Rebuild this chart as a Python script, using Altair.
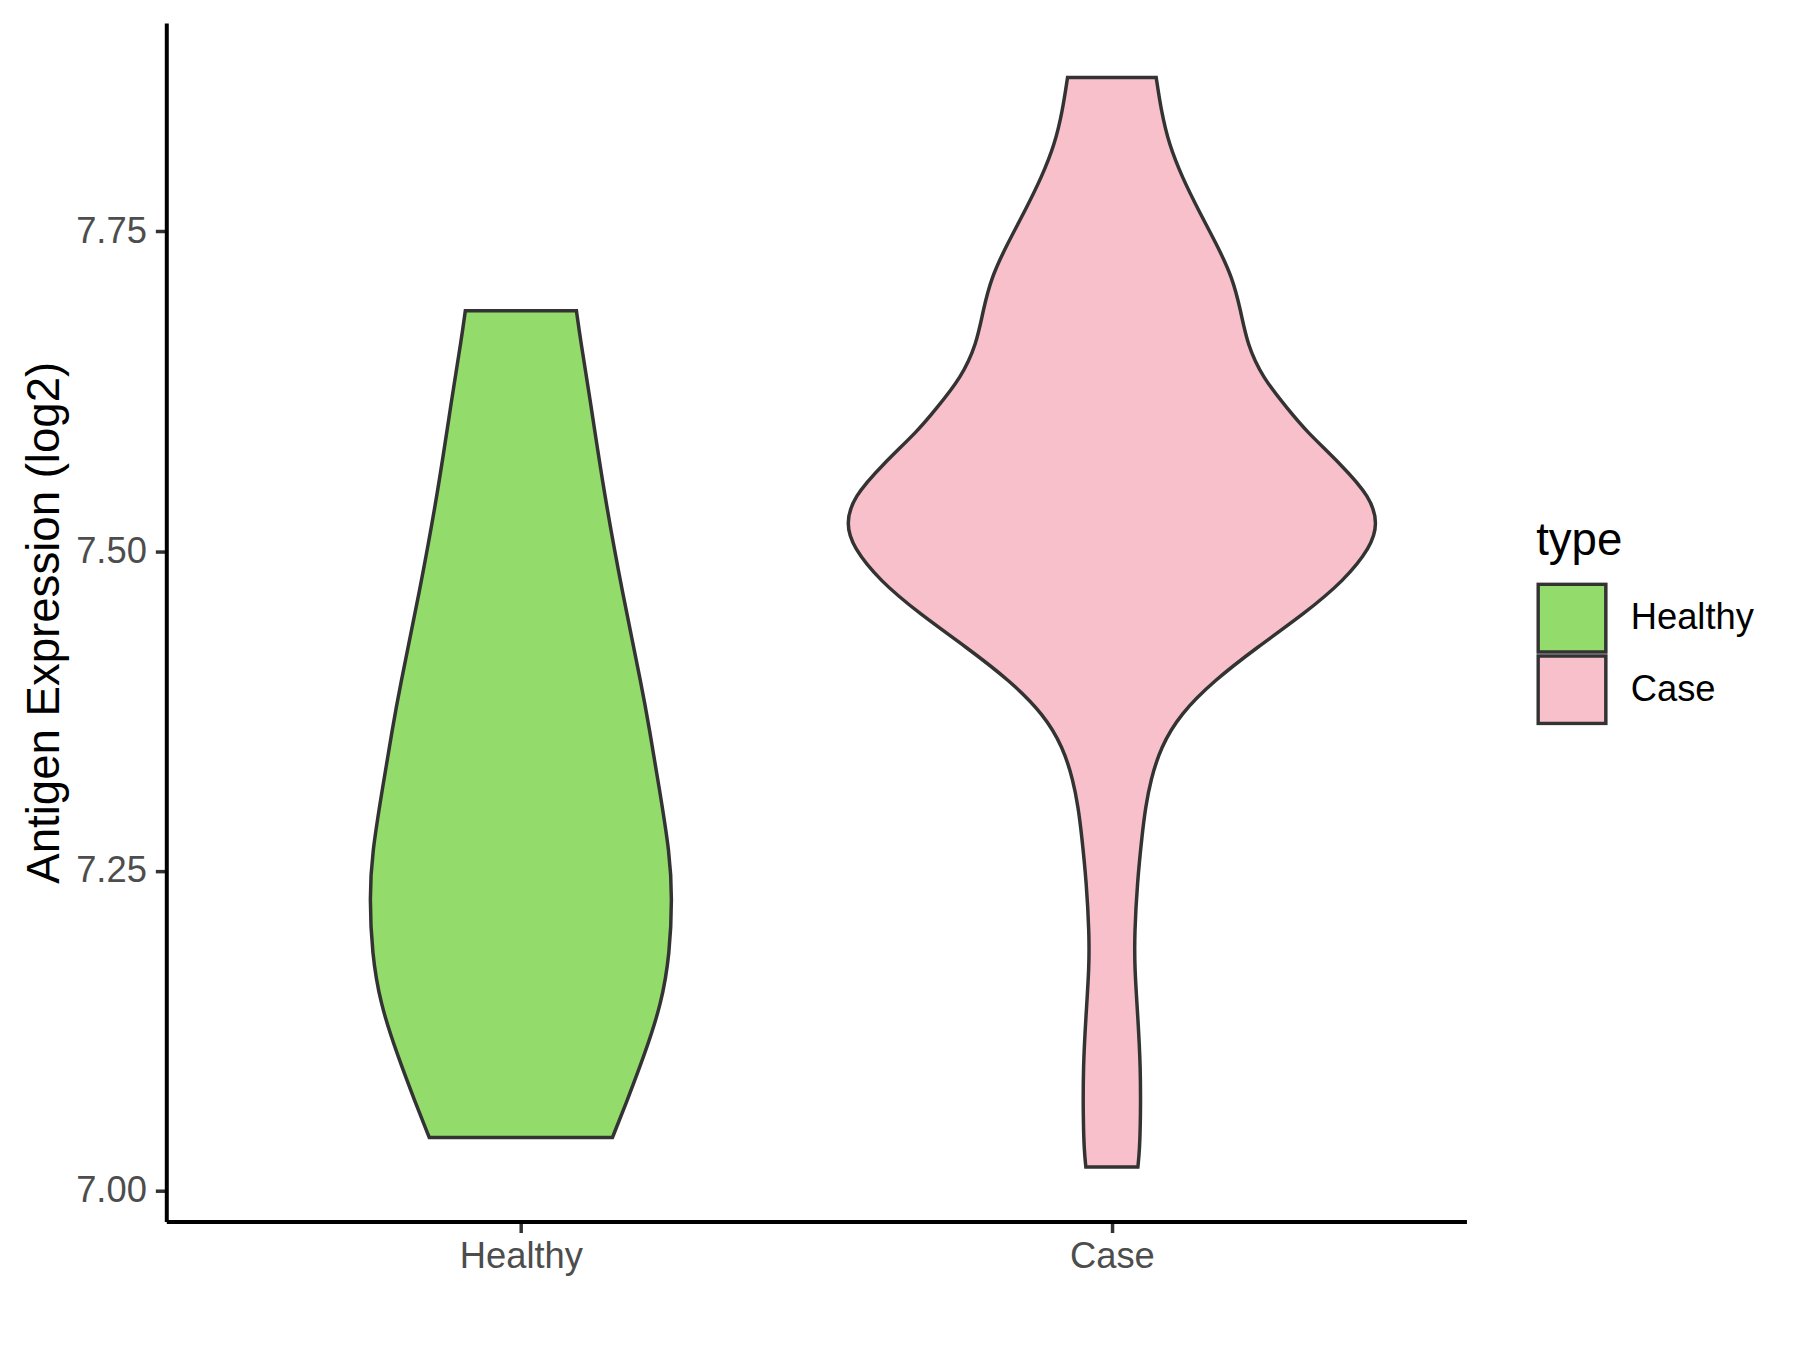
import altair as alt
import pandas as pd

# ---- data ----
groups = ["Healthy", "Case"]
group_pos = [0, 1]
colors = ["#93DB6A", "#F7C0CB"]

healthy_expr = [7.0414, 7.0680, 7.1071, 7.1462, 7.1853, 7.2291, 7.2635, 7.3151,
                7.3620, 7.3909, 7.4691, 7.5473, 7.6255, 7.6646, 7.6880]
healthy_half = [0.155, 0.178, 0.210, 0.238, 0.252, 0.256, 0.252, 0.234,
                0.217, 0.206, 0.171, 0.140, 0.115, 0.101, 0.094]

case_expr = [7.0182, 7.0313, 7.0573, 7.0964, 7.1355, 7.1746, 7.2007, 7.2398,
             7.2789, 7.2997, 7.3206, 7.3466, 7.3727, 7.3988, 7.4248, 7.4509,
             7.4769, 7.5030, 7.5213, 7.5421, 7.5682, 7.5942, 7.6099, 7.6359,
             7.6620, 7.6880, 7.7141, 7.7402, 7.7662, 7.7923, 7.8184, 7.8444, 7.8705]
case_half = [0.044, 0.0469, 0.0486, 0.0486, 0.044, 0.0384, 0.0384, 0.0428,
             0.0513, 0.057, 0.0655, 0.0825, 0.116, 0.173, 0.246, 0.325,
             0.393, 0.438, 0.450, 0.438, 0.387, 0.328, 0.300, 0.2545,
             0.229, 0.218, 0.204, 0.177, 0.147, 0.119, 0.0965, 0.0835, 0.075]

y_ticks = [7.00, 7.25, 7.50, 7.75]
y_domain = [6.9756, 7.9131]
x_domain = [-0.6, 1.6]

rows = []
for g, pos, ex, hw in [(groups[0], group_pos[0], healthy_expr, healthy_half),
                       (groups[1], group_pos[1], case_expr, case_half)]:
    for v, h in zip(ex, hw):
        rows.append({"type": g, "expr": v, "lo": pos - h, "hi": pos + h})
df = pd.DataFrame(rows)

FONT = "Liberation Sans"
LABEL_SIZE = 36.5
TITLE_SIZE = 45.8

chart = alt.Chart(df).mark_area(
    orient="horizontal",
    interpolate="basis",
    stroke="#333333",
    strokeWidth=3.5,
    opacity=1,
    fillOpacity=1,
).encode(
    y=alt.Y("expr:Q", scale=alt.Scale(domain=y_domain, nice=False, zero=False),
            axis=alt.Axis(values=y_ticks, format=".2f", title="Antigen Expression (log2)",
                          titlePadding=7, labelPadding=9)),
    x=alt.X("lo:Q", stack=None, scale=alt.Scale(domain=x_domain, nice=False, zero=False),
            axis=alt.Axis(values=group_pos, title=None, labelPadding=6,
                          labelExpr="datum.value == 0 ? 'Healthy' : 'Case'")),
    x2="hi:Q",
    fill=alt.Fill("type:N", scale=alt.Scale(domain=groups, range=colors),
                  legend=alt.Legend(title="type", orient="none", legendX=1376, legendY=498,
                                    symbolType="square", symbolSize=4624,
                                    symbolStrokeColor="#333333", symbolStrokeWidth=3.5,
                                    symbolOpacity=1, labelOffset=23, rowPadding=0,
                                    clipHeight=72, titlePadding=18)),
).properties(
    width=1306,
    height=1204,
    autosize=alt.AutoSizeParams(type="none"),
    padding={"left": 159, "top": 12, "right": 327, "bottom": 126},
    background="white",
).configure_view(
    stroke=None,
).configure_axis(
    grid=False,
    domainColor="black",
    domainWidth=4,
    tickColor="#333333",
    tickWidth=3.5,
    tickSize=11,
    labelColor="#4D4D4D",
    labelFont=FONT,
    labelFontSize=LABEL_SIZE,
    titleFont=FONT,
    titleFontSize=TITLE_SIZE,
    titleColor="black",
    titleFontWeight="normal",
).configure_legend(
    titleFont=FONT,
    titleFontSize=TITLE_SIZE,
    titleFontWeight="normal",
    titleColor="black",
    labelFont=FONT,
    labelFontSize=LABEL_SIZE,
    labelColor="black",
)

chart.save("out.html", embed_options={"renderer": "svg", "actions": False})
